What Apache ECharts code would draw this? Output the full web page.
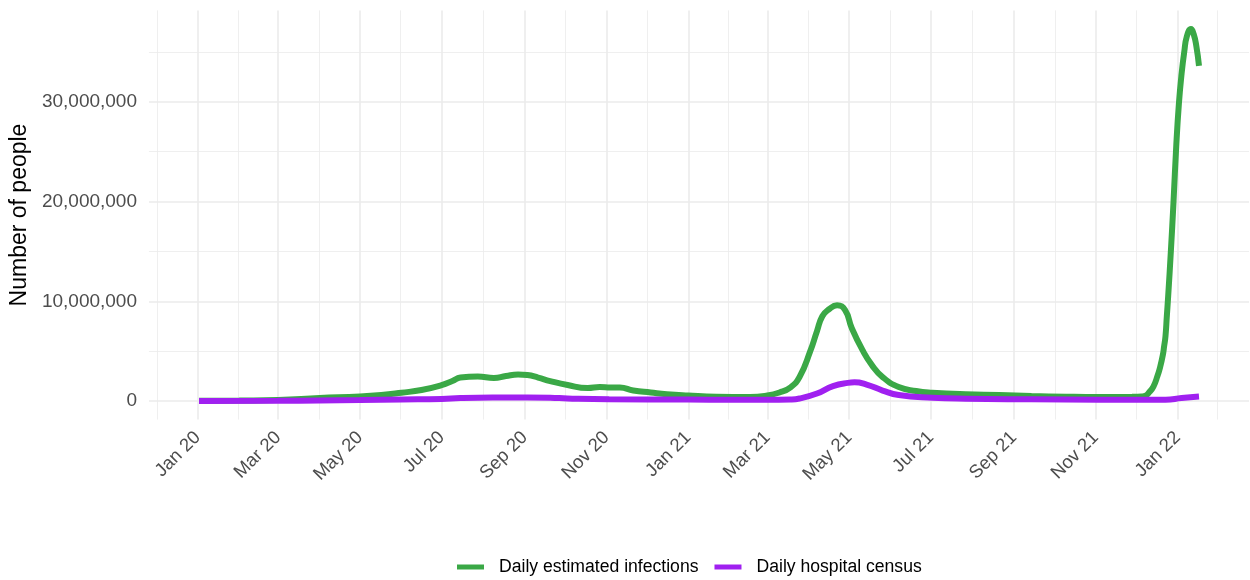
<!DOCTYPE html>
<html><head><meta charset="utf-8">
<script src="https://cdn.jsdelivr.net/npm/echarts@6/dist/echarts.min.js"></script>
<style>html,body{margin:0;padding:0;background:#fff}#c{width:1250px;height:580px}</style>
</head><body><div id="c"></div>
<script>
const seriesNames = ['Daily estimated infections', 'Daily hospital census'];
const seriesColors = ['#3AA846', '#A020F0'];

const infectionDates = ['2020-01-02','2020-02-01','2020-03-01','2020-04-01','2020-05-01','2020-05-17','2020-06-01','2020-06-16','2020-07-01','2020-07-09','2020-07-15','2020-07-28','2020-08-09','2020-08-18','2020-08-27','2020-09-03','2020-09-11','2020-09-20','2020-10-03','2020-10-18','2020-10-27','2020-11-04','2020-11-11','2020-11-21','2020-12-04','2020-12-16','2021-01-01','2021-01-22','2021-02-16','2021-03-01','2021-03-10','2021-03-18','2021-03-25','2021-04-02','2021-04-07','2021-04-11','2021-04-16','2021-04-22','2021-04-28','2021-05-03','2021-05-11','2021-05-18','2021-05-26','2021-06-07','2021-06-20','2021-07-02','2021-07-27','2021-08-21','2021-09-14','2021-10-10','2021-11-03','2021-11-28','2021-12-05','2021-12-08','2021-12-11','2021-12-14','2021-12-17','2021-12-19','2021-12-21','2021-12-22','2021-12-23','2021-12-24','2021-12-25','2021-12-27','2021-12-29','2021-12-31','2022-01-02','2022-01-04','2022-01-06','2022-01-08','2022-01-11','2022-01-13','2022-01-15','2022-01-17'];
const infectionValues = [20000,50000,100000,300000,450000,600000,830000,1100000,1600000,2000000,2350000,2450000,2300000,2500000,2650000,2600000,2350000,2000000,1600000,1300000,1400000,1350000,1350000,1050000,850000,680000,550000,430000,400000,550000,850000,1350000,2400000,5000000,7000000,8500000,9200000,9600000,9100000,7300000,5100000,3600000,2400000,1400000,1000000,830000,670000,600000,500000,430000,400000,420000,450000,520000,900000,1450000,2500000,3400000,4600000,5500000,6500000,8500000,10500000,15000000,20000000,25500000,29800000,32800000,35000000,36600000,37300000,36800000,35600000,33600000];

const censusDates = ['2020-01-02','2020-03-01','2020-04-01','2020-05-01','2020-06-01','2020-07-01','2020-07-15','2020-08-08','2020-09-03','2020-09-20','2020-10-03','2020-11-03','2021-01-01','2021-02-04','2021-03-01','2021-03-18','2021-03-25','2021-04-07','2021-04-19','2021-04-30','2021-05-05','2021-05-14','2021-05-26','2021-06-07','2021-07-02','2021-07-27','2021-09-14','2021-11-03','2021-12-23','2022-01-04','2022-01-17'];
const censusValues = [0,20000,60000,100000,150000,200000,300000,350000,350000,330000,250000,170000,150000,120000,120000,150000,250000,750000,1500000,1820000,1870000,1650000,1050000,600000,330000,230000,170000,130000,130000,300000,450000];

const xTickDates = ['2019-11-01','2020-01-01','2020-03-01','2020-05-01','2020-07-01','2020-09-01','2020-11-01','2021-01-01','2021-03-01','2021-05-01','2021-07-01','2021-09-01','2021-11-01','2022-01-01','2022-03-01'];
const yTickValues = [-10000000, 0, 10000000, 20000000, 30000000, 40000000];
const monthAbbr = ['Jan','Feb','Mar','Apr','May','Jun','Jul','Aug','Sep','Oct','Nov','Dec'];

function ts(d) { return Date.UTC(+d.slice(0,4), +d.slice(5,7)-1, +d.slice(8,10)); }

const infData = infectionDates.map((d,i) => [ts(d), infectionValues[i]]);
const cenData = censusDates.map((d,i) => [ts(d), censusValues[i]]);

const allX = infData.concat(cenData).map(p => p[0]);
const allY = infData.concat(cenData).map(p => p[1]);
const x0 = Math.min(...allX), x1 = Math.max(...allX);
const y0 = Math.min(...allY), y1 = Math.max(...allY);
const xMin = x0 - (x1-x0)*0.05, xMax = x1 + (x1-x0)*0.05;
const yMin = y0 - (y1-y0)*0.05, yMax = y1 + (y1-y0)*0.05;

const xAll = xTickDates.map(ts);
const xMajor = xAll.filter(v => v >= xMin && v <= xMax);
const xMinor = [];
for (let i = 0; i < xAll.length-1; i++) { const m = (xAll[i]+xAll[i+1])/2; if (m >= xMin && m <= xMax) xMinor.push(m); }
const yMajor = yTickValues.filter(v => v >= yMin && v <= yMax);
const yMinor = [];
for (let i = 0; i < yTickValues.length-1; i++) { const m = (yTickValues[i]+yTickValues[i+1])/2; if (m >= yMin && m <= yMax) yMinor.push(m); }

const FONT = 'Liberation Sans, Arial, Helvetica, sans-serif';
const gridMajor = {color:'#EBEBEB', width:1.6};
const gridMinor = {color:'#EBEBEB', width:0.8};

const chart = echarts.init(document.getElementById('c'), null, {renderer:'canvas'});
chart.setOption({
  animation: false,
  backgroundColor: '#ffffff',
  grid: {left:148, right:1, top:10.4, bottom:160.4, containLabel:false},
  legend: {
    left: 457, top: 558, padding: 0, itemGap: 16,
    icon: 'rect', itemWidth: 27, itemHeight: 5,
    data: seriesNames,
    textStyle: {fontFamily: FONT, fontSize: 17.6, color: '#000', padding: [0,0,0,10]}
  },
  xAxis: [
    {type:'value', min:xMin, max:xMax,
     axisLine:{show:false}, axisTick:{show:false, customValues:xMajor},
     axisLabel:{customValues:xMajor, rotate:45, margin:15, color:'#4D4D4D', fontFamily:FONT, fontSize:18.5,
       formatter: v => { const d = new Date(v); return monthAbbr[d.getUTCMonth()] + ' ' + String(d.getUTCFullYear()).slice(2); }},
     splitLine:{show:true, lineStyle:gridMajor}},
    {type:'value', min:xMin, max:xMax, position:'bottom',
     axisLine:{show:false}, axisTick:{show:false, customValues:xMinor}, axisLabel:{show:false},
     splitLine:{show:true, lineStyle:gridMinor}}
  ],
  yAxis: [
    {type:'value', min:yMin, max:yMax,
     name:'Number of people', nameLocation:'middle', nameRotate:90, nameGap:111,
     nameTextStyle:{fontFamily:FONT, fontSize:23, color:'#000'},
     axisLine:{show:false}, axisTick:{show:false, customValues:yMajor},
     axisLabel:{customValues:yMajor, margin:12, color:'#4D4D4D', fontFamily:FONT, fontSize:19,
       formatter: v => Math.round(v).toLocaleString('en-US')},
     splitLine:{show:true, lineStyle:gridMajor}},
    {type:'value', min:yMin, max:yMax, position:'left',
     axisLine:{show:false}, axisTick:{show:false, customValues:yMinor}, axisLabel:{show:false},
     splitLine:{show:true, lineStyle:gridMinor}}
  ],
  series: [
    {name:seriesNames[0], type:'line', data:infData, xAxisIndex:0, yAxisIndex:0,
     symbol:'none', smooth:0.5, color:seriesColors[0],
     lineStyle:{width:6, color:seriesColors[0]}},
    {name:seriesNames[1], type:'line', data:cenData, xAxisIndex:0, yAxisIndex:0,
     symbol:'none', smooth:0.5, color:seriesColors[1],
     lineStyle:{width:6, color:seriesColors[1]}}
  ]
});
</script>
</body></html>
